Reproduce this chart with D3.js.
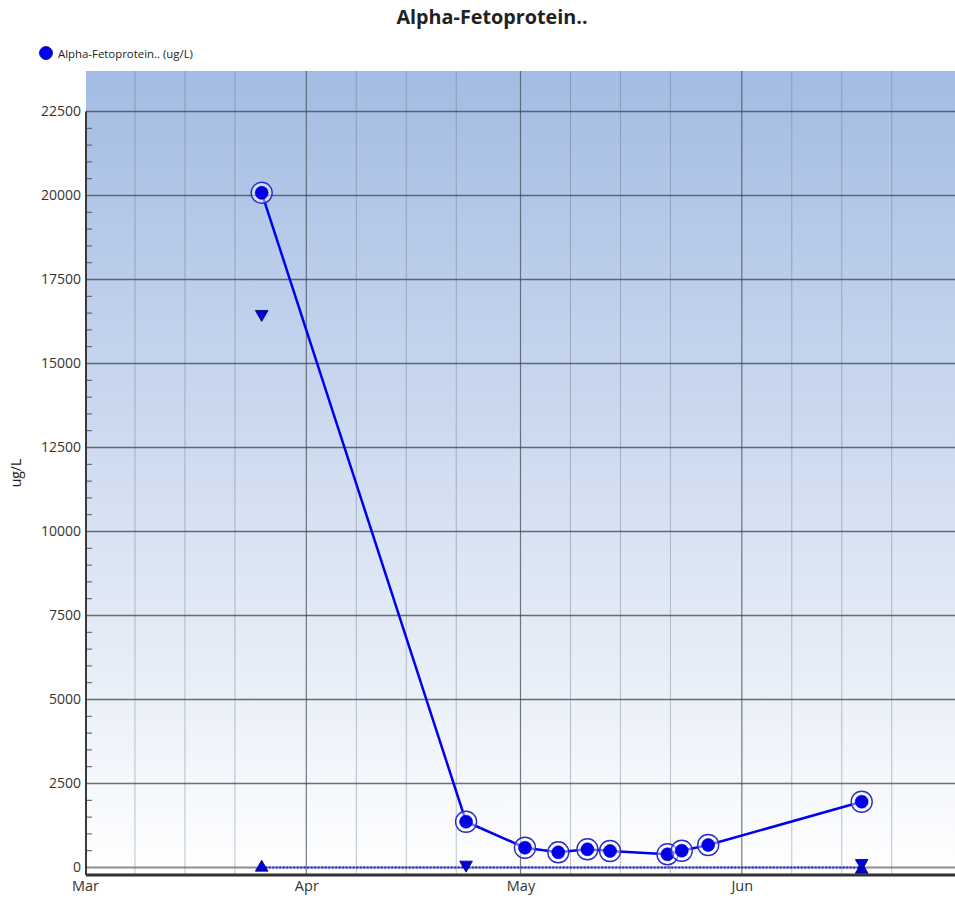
<!DOCTYPE html>
<html>
<head>
<meta charset="utf-8">
<script src="https://cdn.jsdelivr.net/npm/d3@7"></script>
<style>
  html, body { margin: 0; padding: 0; background: #ffffff; }
  svg { display: block; }
</style>
</head>
<body>
<svg id="chart" width="955" height="902"></svg>
<script>
// ---------------- data ----------------
const chartTitle = "Alpha-Fetoprotein..";
const seriesName = "Alpha-Fetoprotein.. (ug/L)";
const yAxisTitle = "ug/L";

const resultDates = [
  "2021-03-25T18:00", "2021-04-23T09:00", "2021-05-01T15:00", "2021-05-06T07:00",
  "2021-05-10T09:00", "2021-05-13T13:00", "2021-05-21T14:00", "2021-05-23T14:00",
  "2021-05-27T07:00", "2021-06-17T19:00"
];
const resultValues = [20080, 1363, 589, 452, 542, 491, 393, 500, 670, 1958];

const upperRefDates = ["2021-03-25T18:00", "2021-04-23T09:00", "2021-06-17T19:00"];
const upperRefValues = [16470, 80, 130];

const lowerRefDates = ["2021-03-25T18:00", "2021-06-17T19:00"];
const lowerRefValues = [0, -60];

const lowerLineDates = ["2021-03-25T18:00", "2021-06-17T19:00"];
const lowerLineValues = [0, 0];

const yTicks = [0, 2500, 5000, 7500, 10000, 12500, 15000, 17500, 20000, 22500];
const xMonthTicks = ["2021-03-01", "2021-04-01", "2021-05-01", "2021-06-01"];
const xMonthLabels = ["Mar", "Apr", "May", "Jun"];

// ---------------- layout ----------------
const W = 955, H = 902;
const plotLeft = 86, plotRight = 956, plotTop = 71, plotBottom = 875;
const parse = d3.isoParse;
const FONT = "'Open Sans', 'Segoe UI', sans-serif";

const svg = d3.select("#chart");

const x = d3.scaleTime()
  .domain([parse("2021-03-01"), parse("2021-07-01")])
  .range([85, 956]);
const y = d3.scaleLinear()
  .domain([-223, 23705])
  .range([plotBottom, plotTop]);

// gradient background
const defs = svg.append("defs");
const grad = defs.append("linearGradient")
  .attr("id", "bg").attr("x1", 0).attr("y1", 0).attr("x2", 0).attr("y2", 1);
grad.append("stop").attr("offset", "0%").attr("stop-color", "#a3bce3");
grad.append("stop").attr("offset", "55%").attr("stop-color", "#d6e1f2");
grad.append("stop").attr("offset", "100%").attr("stop-color", "#ffffff");

defs.append("clipPath").attr("id", "plotclip")
  .append("rect").attr("x", plotLeft).attr("y", plotTop)
  .attr("width", plotRight - plotLeft).attr("height", plotBottom - plotTop);

svg.append("rect")
  .attr("x", plotLeft).attr("y", plotTop)
  .attr("width", plotRight - plotLeft).attr("height", plotBottom - plotTop)
  .attr("fill", "url(#bg)");

const grid = svg.append("g").attr("clip-path", "url(#plotclip)");

// minor vertical gridlines (8th, 15th, 22nd of each month)
const minorDays = [];
d3.timeMonth.range(parse("2021-03-01"), parse("2021-07-01")).forEach(m => {
  [8, 15, 22].forEach(dd => minorDays.push(new Date(m.getFullYear(), m.getMonth(), dd)));
});
grid.selectAll("line.vminor").data(minorDays).join("line")
  .attr("class", "vminor")
  .attr("x1", d => x(d)).attr("x2", d => x(d))
  .attr("y1", plotTop).attr("y2", plotBottom)
  .attr("stroke", "rgba(90,100,115,0.38)").attr("stroke-width", 1);

// major vertical gridlines (months)
grid.selectAll("line.vmajor").data(xMonthTicks.slice(1).map(parse)).join("line")
  .attr("class", "vmajor")
  .attr("x1", d => x(d)).attr("x2", d => x(d))
  .attr("y1", plotTop).attr("y2", plotBottom)
  .attr("stroke", "rgba(70,78,90,0.75)").attr("stroke-width", 1.2);

// horizontal gridlines
grid.selectAll("line.h").data(yTicks).join("line")
  .attr("class", "h")
  .attr("x1", plotLeft).attr("x2", plotRight)
  .attr("y1", d => y(d)).attr("y2", d => y(d))
  .attr("stroke", d => d === 0 ? "rgba(110,115,125,0.8)" : "rgba(65,72,85,0.78)")
  .attr("stroke-width", d => d === 0 ? 2 : 1.3);

// ---------------- axes ----------------
const yAxis = d3.axisLeft(y).tickValues(yTicks).tickFormat(d3.format("d"))
  .tickSize(0).tickPadding(5);
const gy = svg.append("g").attr("transform", `translate(${plotLeft},0)`).call(yAxis);
gy.select(".domain").remove();
gy.selectAll("text")
  .attr("font-family", FONT)
  .attr("font-size", 14).attr("fill", "#333");

// minor y ticks (inside)
const minorY = d3.range(500, 22500, 500).filter(v => v % 2500 !== 0);
svg.append("g").selectAll("line").data(minorY).join("line")
  .attr("x1", plotLeft).attr("x2", plotLeft + 6)
  .attr("y1", d => y(d)).attr("y2", d => y(d))
  .attr("stroke", "#555").attr("stroke-width", 1);

svg.append("line")
  .attr("x1", plotLeft).attr("x2", plotLeft)
  .attr("y1", y(22500)).attr("y2", plotBottom)
  .attr("stroke", "#3a3a3a").attr("stroke-width", 2);

const xAxis = d3.axisBottom(x)
  .tickValues(xMonthTicks.map(parse))
  .tickFormat((d, i) => xMonthLabels[i])
  .tickSize(0).tickPadding(6);
const gx = svg.append("g").attr("transform", `translate(0,${plotBottom})`).call(xAxis);
gx.select(".domain").remove();
gx.selectAll("text")
  .attr("font-family", FONT)
  .attr("font-size", 14.5).attr("fill", "#333");

svg.append("line")
  .attr("x1", plotLeft).attr("x2", plotRight)
  .attr("y1", plotBottom).attr("y2", plotBottom)
  .attr("stroke", "#333").attr("stroke-width", 3);

// y axis title
svg.append("text")
  .attr("transform", `translate(21,${(plotTop + plotBottom) / 2}) rotate(-90)`)
  .attr("text-anchor", "middle")
  .attr("font-family", FONT)
  .attr("font-size", 14).attr("fill", "#222")
  .text(yAxisTitle);

// title
svg.append("text")
  .attr("x", 492).attr("y", 24)
  .attr("text-anchor", "middle")
  .attr("font-family", FONT)
  .attr("font-weight", "bold")
  .attr("font-size", 19.8).attr("fill", "#222")
  .text(chartTitle);

// legend
svg.append("circle").attr("cx", 46).attr("cy", 53).attr("r", 6.5)
  .attr("fill", "#0000ee").attr("stroke", "#000080").attr("stroke-width", 0.8);
svg.append("text").attr("x", 58).attr("y", 57.5)
  .attr("font-family", FONT)
  .attr("font-size", 11.4).attr("fill", "#222")
  .text(seriesName);

// ---------------- series ----------------
const plot = svg.append("g").attr("clip-path", "url(#plotclip)");

const lowerLine = lowerLineDates.map((d, i) => ({ d: parse(d), v: lowerLineValues[i] }));
plot.append("path").datum(lowerLine)
  .attr("d", d3.line().x(p => x(p.d)).y(p => y(p.v)))
  .attr("fill", "none").attr("stroke", "#2222ee")
  .attr("stroke-width", 2).attr("stroke-dasharray", "2,1.5");

const results = resultDates.map((d, i) => ({ d: parse(d), v: resultValues[i] }));
plot.append("path").datum(results)
  .attr("d", d3.line().x(p => x(p.d)).y(p => y(p.v)))
  .attr("fill", "none").attr("stroke", "#0000f0").attr("stroke-width", 2.5);

const tri = d3.symbol().type(d3.symbolTriangle).size(70);

const lows = lowerRefDates.map((d, i) => ({ d: parse(d), v: lowerRefValues[i] }));
plot.selectAll("path.low").data(lows).join("path")
  .attr("class", "low")
  .attr("d", tri)
  .attr("transform", p => `translate(${x(p.d)},${y(p.v)})`)
  .attr("fill", "#0000e0").attr("stroke", "#000060").attr("stroke-width", 0.8);

const ups = upperRefDates.map((d, i) => ({ d: parse(d), v: upperRefValues[i] }));
plot.selectAll("path.up").data(ups).join("path")
  .attr("class", "up")
  .attr("d", tri)
  .attr("transform", p => `translate(${x(p.d)},${y(p.v)}) rotate(180)`)
  .attr("fill", "#0000e0").attr("stroke", "#000060").attr("stroke-width", 0.8);

const pts = plot.selectAll("g.pt").data(results).join("g")
  .attr("class", "pt")
  .attr("transform", p => `translate(${x(p.d)},${y(p.v)})`);
pts.append("circle").attr("r", 10.5)
  .attr("fill", "rgba(255,255,255,0.45)")
  .attr("stroke", "#2a2ad0").attr("stroke-width", 1.4);
pts.append("circle").attr("r", 6.5)
  .attr("fill", "#0000ee").attr("stroke", "#0000a0").attr("stroke-width", 0.6);
</script>
</body>
</html>
